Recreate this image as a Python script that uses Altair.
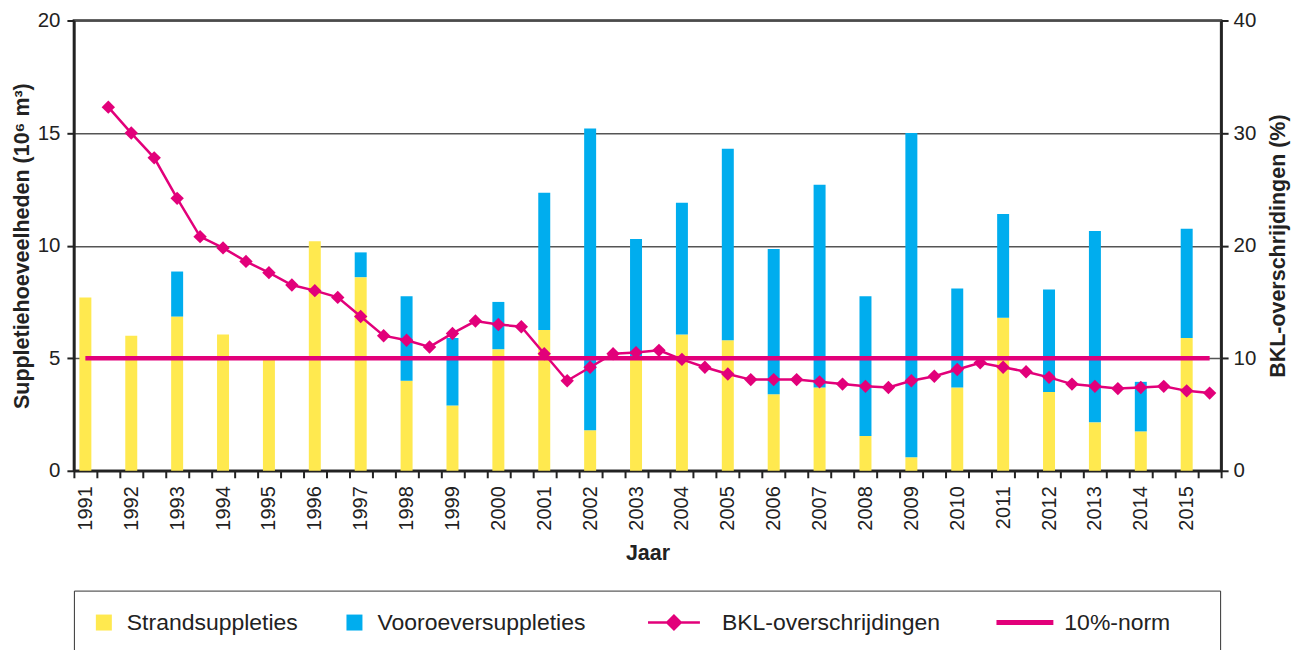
import altair as alt
import pandas as pd

# ---------------- data ----------------
years = [1991, 1992, 1993, 1994, 1995, 1996, 1997, 1998, 1999, 2000, 2001, 2002, 2003,
         2004, 2005, 2006, 2007, 2008, 2009, 2010, 2011, 2012, 2013, 2014, 2015]
strand = [7.7, 6.0, 6.85, 6.05, 4.95, 10.2, 8.6, 4.0, 2.9, 5.4, 6.25, 1.8, 5.1,
          6.05, 5.8, 3.4, 3.7, 1.55, 0.6, 3.7, 6.8, 3.5, 2.15, 1.75, 5.9]
vooroever = [0.0, 0.0, 2.0, 0.0, 0.0, 0.0, 1.1, 3.75, 3.0, 2.1, 6.1, 13.4, 5.2,
             5.85, 8.5, 6.45, 9.0, 6.2, 14.4, 4.4, 4.6, 4.55, 8.5, 2.2, 4.85]

bkl_x = [1991.5, 1992.0, 1992.5, 1993.0, 1993.5, 1994.0, 1994.5, 1995.0, 1995.5, 1996.0,
         1996.5, 1997.0, 1997.5, 1998.0, 1998.5, 1999.0, 1999.5, 2000.0, 2000.5, 2001.0,
         2001.5, 2002.0, 2002.5, 2003.0, 2003.5, 2004.0, 2004.5, 2005.0, 2005.5, 2006.0,
         2006.5, 2007.0, 2007.5, 2008.0, 2008.5, 2009.0, 2009.5, 2010.0, 2010.5, 2011.0,
         2011.5, 2012.0, 2012.5, 2013.0, 2013.5, 2014.0, 2014.5, 2015.0, 2015.5]
bkl = [32.3, 30.0, 27.8, 24.2, 20.8, 19.8, 18.6, 17.6, 16.5, 16.0,
       15.4, 13.7, 12.0, 11.6, 11.0, 12.2, 13.3, 13.0, 12.8, 10.4,
       8.0, 9.2, 10.4, 10.5, 10.7, 9.9, 9.2, 8.6, 8.1, 8.1,
       8.1, 7.9, 7.7, 7.5, 7.4, 8.0, 8.4, 9.0, 9.6, 9.2,
       8.8, 8.3, 7.7, 7.5, 7.3, 7.4, 7.5, 7.1, 6.9]

norm_start = [1991.0]
norm_end = [2015.5]
norm_value = [10.0]

series_names = ["Strandsuppleties", "Vooroeversuppleties", "BKL-overschrijdingen", "10%-norm"]
series_colors = ["#FFE94F", "#00ADEE", "#E2007A", "#E2007A"]
# legend symbol outlines (unit path space)
series_symbols = [
    "M-0.667,-0.533H0.4V0.533H-0.667Z",
    "M-0.667,-0.533H0.4V0.533H-0.667Z",
    "M-3.533,-0.087H-0.067V0.087H-3.533Z M-2.367,0L-1.8,-0.567L-1.233,0L-1.8,0.567Z",
    "M-3.133,-0.167H0.667V0.167H-3.133Z",
]

MAG = "#E2007A"
TXT = "#222222"
FONT = "Liberation Sans"
NB = "\u00a0"
ZW = "\u200b"

# ---------------- tables ----------------
bars_df = pd.DataFrame({
    "jaar": years + years,
    "serie": [series_names[0]] * len(years) + [series_names[1]] * len(years),
    "volume": strand + vooroever,
    "ord": [0] * len(years) + [1] * len(years),
})
bkl_df = pd.DataFrame({"x": bkl_x, "bkl": bkl})
norm_df = pd.DataFrame({"start": norm_start, "end": norm_end, "value": norm_value})
legend_df = pd.DataFrame({"serie": series_names})

xscale = alt.Scale(domain=[1990.75, 2015.75], nice=False, zero=False, padding=0)
color_scale = alt.Scale(domain=series_names, range=series_colors)
shape_scale = alt.Scale(domain=series_names, range=series_symbols)

tick_vals = [1990.75 + 0.5 * i for i in range(51)]

xaxis = alt.Axis(
    values=tick_vals,
    labelExpr="(datum.value % 1 == 0.75 && datum.value < 2015.5) ? format(datum.value + 0.25, 'd') : ''",
    labelAngle=270, labelOffset=11.5, labelPadding=8, labelFontSize=20,
    labelOverlap=False, labelFlush=False, labelBound=False, labelColor=TXT,
    tickSize=7, tickWidth=2, tickColor=TXT,
    domainColor=TXT, domainWidth=2.5,
    grid=False,
    title="Jaar", titleFontSize=21.5, titleFontWeight="bold", titleColor=TXT, titlePadding=12,
)

yleft = alt.Axis(
    values=[0, 5, 10, 15, 20], tickSize=7, tickWidth=2, tickColor=TXT,
    labelPadding=7, labelFontSize=20.5, labelColor=TXT,
    domainColor=TXT, domainWidth=2.5,
    grid=True, gridColor="#555555", gridWidth=1.5,
    title="Suppletiehoeveelheden (10⁶ m³)", titleFontSize=21.5, titleFontWeight="bold",
    titleColor=TXT, titlePadding=4,
)

yright = alt.Axis(
    orient="right", values=[0, 10, 20, 30, 40], tickSize=7, tickWidth=2, tickColor=TXT,
    labelPadding=5, labelFontSize=20.5, labelColor=TXT,
    domainColor=TXT, domainWidth=2.5, grid=False,
    title="BKL-overschrijdingen (%)", titleFontSize=21.5, titleFontWeight="bold",
    titleColor=TXT, titlePadding=12, titleAngle=270, titleBaseline="top",
)

legend_label_expr = (
    "datum.label + (datum.value == 'Vooroeversuppleties' ? '" + NB * 3 + ZW + "' : "
    "datum.value == 'BKL-overschrijdingen' ? '" + NB * 2 + ZW + "' : "
    "datum.value == '10%-norm' ? '" + NB * 5 + ZW + "' : '')"
)

legend_kw = dict(
    orient="bottom", direction="horizontal", title=None,
    labelFont=FONT, labelFontSize=23, labelColor=TXT, labelLimit=500,
    labelExpr=legend_label_expr,
    symbolSize=900, symbolStrokeWidth=0, symbolOpacity=1, labelOffset=6,
    columnPadding=43, padding=17, strokeColor="#333333", offset=27,
)

bars = alt.Chart(bars_df).mark_bar(size=12).encode(
    x=alt.X("jaar:Q", scale=xscale, axis=xaxis),
    y=alt.Y("volume:Q", stack="zero", scale=alt.Scale(domain=[0, 20], nice=False), axis=yleft),
    color=alt.Color("serie:N", scale=color_scale, legend=alt.Legend(**legend_kw)),
    order=alt.Order("ord:Q"),
)

yr_scale = alt.Scale(domain=[0, 40], nice=False)

norm = alt.Chart(norm_df).mark_rule(color=MAG, strokeWidth=4.5).encode(
    x=alt.X("start:Q", scale=xscale, axis=xaxis),
    x2="end:Q",
    y=alt.Y("value:Q", scale=yr_scale, axis=yright),
)

line = alt.Chart(bkl_df).mark_line(color=MAG, strokeWidth=2.5).encode(
    x=alt.X("x:Q", scale=xscale, axis=xaxis),
    y=alt.Y("bkl:Q", scale=yr_scale, axis=yright),
)

points = alt.Chart(bkl_df).mark_point(shape="diamond", filled=True, size=180, color=MAG, opacity=1).encode(
    x=alt.X("x:Q", scale=xscale, axis=xaxis),
    y=alt.Y("bkl:Q", scale=yr_scale, axis=yright),
)

legend_layer = alt.Chart(legend_df).mark_point(filled=True, size=0, opacity=1, strokeWidth=0).encode(
    x=alt.value(0),
    y=alt.value(0),
    color=alt.Color("serie:N", scale=color_scale, legend=alt.Legend(**legend_kw)),
    shape=alt.Shape("serie:N", scale=shape_scale, legend=alt.Legend(**legend_kw)),
)

right = alt.layer(norm, line, points, legend_layer)

chart = alt.layer(bars, right).resolve_scale(y="independent").properties(
    width=1149, height=451,
    padding={"left": 3, "top": 2, "right": 2, "bottom": 0},
).configure(font=FONT).configure_view(stroke="#333333", strokeWidth=2.5)

chart.save("out.html", embed_options={"renderer": "svg", "actions": False})
